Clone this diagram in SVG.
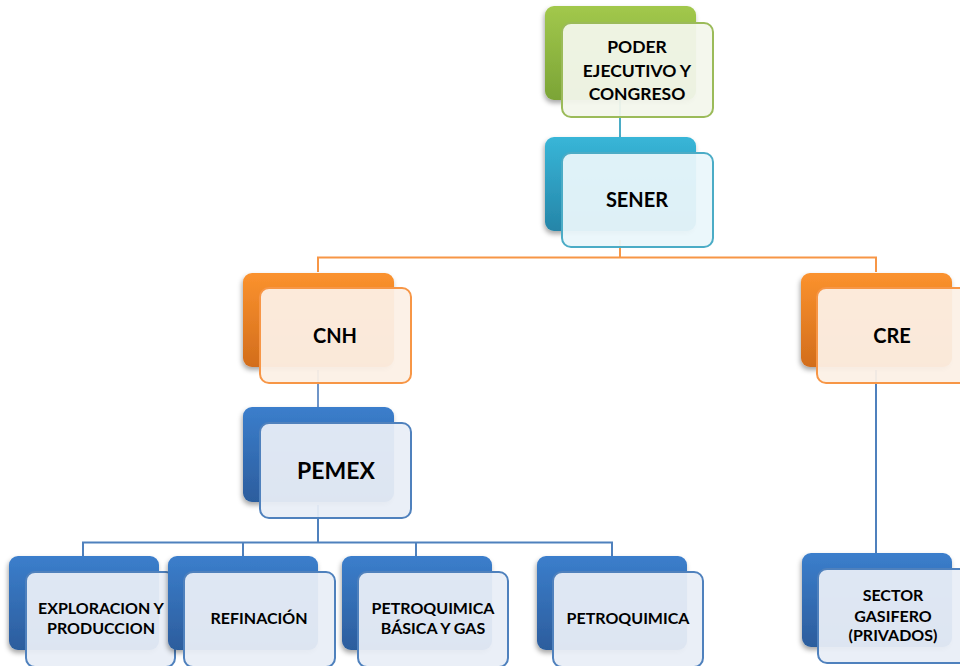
<svg xmlns="http://www.w3.org/2000/svg" width="960" height="666" viewBox="0 0 960 666">
<defs>
<linearGradient id="gG" x1="0" y1="0" x2="0" y2="1"><stop offset="0" stop-color="#a2c84c"/><stop offset="1" stop-color="#7ba436"/></linearGradient>
<linearGradient id="gT" x1="0" y1="0" x2="0" y2="1"><stop offset="0" stop-color="#38b6d8"/><stop offset="1" stop-color="#2585a8"/></linearGradient>
<linearGradient id="gO" x1="0" y1="0" x2="0" y2="1"><stop offset="0" stop-color="#fb922e"/><stop offset="1" stop-color="#d26d1c"/></linearGradient>
<linearGradient id="gB" x1="0" y1="0" x2="0" y2="1"><stop offset="0" stop-color="#3b7ecc"/><stop offset="1" stop-color="#2c5d9d"/></linearGradient>
<filter id="sh" x="-10%" y="-10%" width="125%" height="125%"><feDropShadow dx="-1" dy="3" stdDeviation="2.5" flood-color="#000" flood-opacity="0.35"/></filter>
</defs>
<style>
.back{filter:url(#sh)}
.front{stroke-width:2}
.fg{fill:#f3f7ec;stroke:#9bbb59;fill-opacity:0.94}
.ft{fill:#eaf6fb;stroke:#4bacc6;fill-opacity:0.94}
.fo{fill:#fcf0e6;stroke:#f79646;fill-opacity:0.94}
.fb{fill:#e9eef7;stroke:#4f81bd;fill-opacity:0.94}
text{font-family:Lato,"Liberation Sans",sans-serif;font-weight:bold;fill:#000;text-anchor:middle}
.t17{font-size:17.5px}
.t19{font-size:20px}
.t24{font-size:23px}
.t15{font-size:16px}
.c{fill:none;stroke-width:2}
</style>
<g id="connectors">
<path class="c" stroke="#4bacc6" d="M620 100V140"/>
<path class="c" stroke="#f79646" d="M620 240V257.5M318 272V257.5H876V272"/>
<path class="c" stroke="#6f95c8" d="M318 370V410"/>
<path class="c" stroke="#4f81bd" d="M876 370V556"/>
<path class="c" stroke="#4f81bd" d="M318 505V542.5M83 558V542.5H612V558M243 542.5V558M416 542.5V558"/>
</g>
<g id="poder">
<rect class="back" x="545" y="6" width="151" height="94" rx="9" fill="url(#gG)"/>
<rect class="front fg" x="562" y="23" width="151" height="94" rx="9"/>
<text class="t17" x="637" y="53">PODER</text>
<text class="t17" x="637" y="77">EJECUTIVO Y</text>
<text class="t17" x="637" y="100">CONGRESO</text>
</g>
<g id="sener">
<rect class="back" x="545" y="137" width="151" height="94" rx="9" fill="url(#gT)"/>
<rect class="front ft" x="562" y="153" width="151" height="94" rx="9"/>
<text class="t19" x="637" y="207">SENER</text>
</g>
<g id="cnh">
<rect class="back" x="243" y="273" width="151" height="94" rx="9" fill="url(#gO)"/>
<rect class="front fo" x="260" y="288" width="151" height="95" rx="9"/>
<text class="t19" x="335" y="343">CNH</text>
</g>
<g id="cre">
<rect class="back" x="801" y="273" width="151" height="94" rx="9" fill="url(#gO)"/>
<rect class="front fo" x="817" y="288" width="151" height="95" rx="9"/>
<text class="t19" x="892" y="343">CRE</text>
</g>
<g id="pemex">
<rect class="back" x="243" y="407" width="151" height="95" rx="9" fill="url(#gB)"/>
<rect class="front fb" x="260" y="423" width="151" height="95" rx="9"/>
<text class="t24" x="336" y="479">PEMEX</text>
</g>
<g id="exploracion">
<rect class="back" x="9" y="556" width="150" height="94" rx="9" fill="url(#gB)"/>
<rect class="front fb" x="26" y="572" width="149" height="95" rx="9"/>
<text class="t15" x="101" y="614">EXPLORACION Y</text>
<text class="t15" x="101" y="634">PRODUCCION</text>
</g>
<g id="refinacion">
<rect class="back" x="168" y="556" width="150" height="94" rx="9" fill="url(#gB)"/>
<rect class="front fb" x="184" y="572" width="151" height="95" rx="9"/>
<text class="t15" x="259" y="624">REFINACIÓN</text>
</g>
<g id="petrobasica">
<rect class="back" x="342" y="556" width="150" height="94" rx="9" fill="url(#gB)"/>
<rect class="front fb" x="358" y="572" width="150" height="95" rx="9"/>
<text class="t15" x="433" y="614">PETROQUIMICA</text>
<text class="t15" x="433" y="634">BÁSICA Y GAS</text>
</g>
<g id="petroquimica">
<rect class="back" x="537" y="556" width="150" height="94" rx="9" fill="url(#gB)"/>
<rect class="front fb" x="553" y="572" width="150" height="95" rx="9"/>
<text class="t15" x="628" y="624">PETROQUIMICA</text>
</g>
<g id="sector">
<rect class="back" x="802" y="553" width="150" height="94" rx="9" fill="url(#gB)"/>
<rect class="front fb" x="818" y="569" width="150" height="94" rx="9"/>
<text class="t15" x="893" y="601">SECTOR</text>
<text class="t15" x="893" y="622">GASIFERO</text>
<text class="t15" x="893" y="641">(PRIVADOS)</text>
</g>
</svg>
